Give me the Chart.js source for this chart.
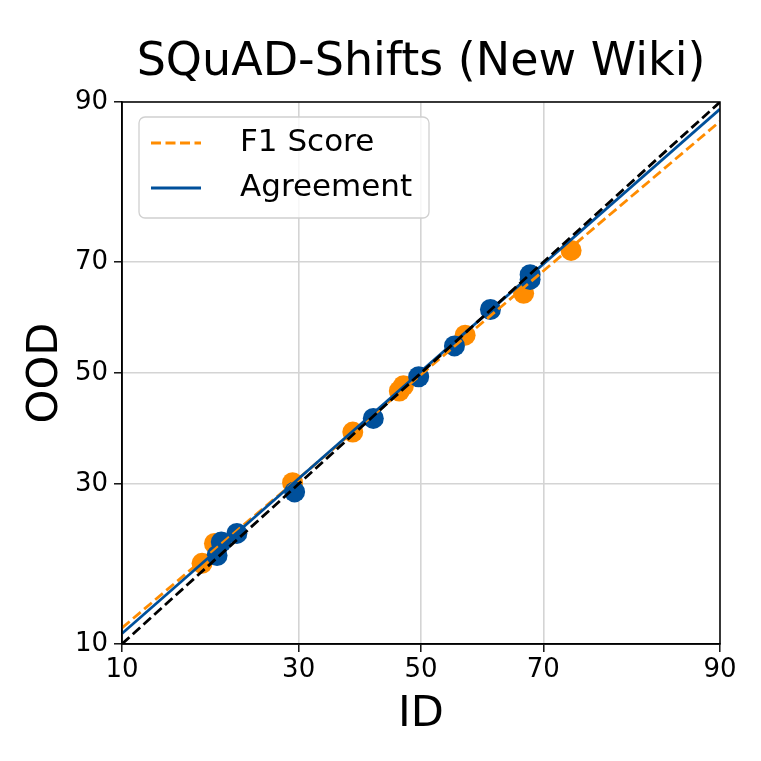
<!DOCTYPE html>
<html>
<head>
<meta charset="utf-8">
<script src="https://cdn.jsdelivr.net/npm/chart.js@4"></script>
<style>
  html, body { margin: 0; padding: 0; background: #fff; }
  canvas { display: block; }
</style>
</head>
<body>
<canvas id="c" width="761" height="761"></canvas>
<script>
// ---- data (percent values) ----
const tickLabels = [10, 30, 50, 70, 90];

const f1ID  = [17.4, 18.8, 29.1, 38.5, 46.3, 47.0, 57.5, 67.0, 74.0];
const f1OOD = [18.4, 21.0, 30.2, 39.0, 46.6, 47.6, 57.1, 64.7, 71.9];

const agrID  = [19.1, 19.6, 21.5, 29.4, 41.9, 49.6, 55.7, 61.7, 68.0, 68.0];
const agrOOD = [19.4, 21.2, 22.4, 28.7, 41.5, 49.3, 55.1, 61.8, 67.9, 67.1];

const f1FitID  = [10, 90];
const f1FitOOD = [11.4, 88.3];
const agrFitID  = [10, 90];
const agrFitOOD = [10.9, 89.4];
const diagID  = [10, 90];
const diagOOD = [10, 90];

// ---- probit transform ----
function probit(p) {
  const a = [-3.969683028665376e+01, 2.209460984245205e+02, -2.759285104469687e+02, 1.383577518672690e+02, -3.066479806614716e+01, 2.506628277459239e+00];
  const b = [-5.447609879822406e+01, 1.615858368580409e+02, -1.556989798598866e+02, 6.680131188771972e+01, -1.328068155288572e+01];
  const c = [-7.784894002430293e-03, -3.223964580411365e-01, -2.400758277161838e+00, -2.549732539343734e+00, 4.374664141464968e+00, 2.938163982698783e+00];
  const d = [7.784695709041462e-03, 3.224671290700398e-01, 2.445134137142996e+00, 3.754408661907416e+00];
  const pl = 0.02425, ph = 1 - pl;
  let q, r;
  if (p < pl) {
    q = Math.sqrt(-2 * Math.log(p));
    return (((((c[0]*q+c[1])*q+c[2])*q+c[3])*q+c[4])*q+c[5]) / ((((d[0]*q+d[1])*q+d[2])*q+d[3])*q+1);
  } else if (p <= ph) {
    q = p - 0.5; r = q*q;
    return (((((a[0]*r+a[1])*r+a[2])*r+a[3])*r+a[4])*r+a[5])*q / (((((b[0]*r+b[1])*r+b[2])*r+b[3])*r+b[4])*r+1);
  } else {
    q = Math.sqrt(-2 * Math.log(1 - p));
    return -(((((c[0]*q+c[1])*q+c[2])*q+c[3])*q+c[4])*q+c[5]) / ((((d[0]*q+d[1])*q+d[2])*q+d[3])*q+1);
  }
}
const tr = v => probit(v / 100);
const pts = (xs, ys) => xs.map((x, i) => ({x: tr(x), y: tr(ys[i])}));

const ORANGE = '#ff8c00';
const BLUE = '#00509b';
const FONT = 'DejaVu Sans';
const DASH = [10, 4.5];

const tickVals = tickLabels.map(tr);
function labelFor(v) {
  let best = 0, bd = Infinity;
  tickVals.forEach((t, i) => { const d = Math.abs(t - v); if (d < bd) { bd = d; best = i; } });
  return String(tickLabels[best]);
}

const axisCommon = (title, isX) => ({
  type: 'linear',
  min: tr(tickLabels[0]),
  max: tr(tickLabels[tickLabels.length - 1]),
  afterBuildTicks: s => { s.ticks = tickVals.map(v => ({value: v})); },
  afterFit: s => { if (isX) s.height = 117; else s.width = 122; },
  ticks: {
    autoSkip: false, maxRotation: 0,
    color: '#000',
    font: {family: FONT, size: 26},
    padding: isX ? 3 : 6,
    callback: v => labelFor(v)
  },
  grid: {
    color: '#d4d4d4', lineWidth: 1.6,
    tickColor: '#000', tickLength: 8, tickWidth: 1.4, drawTicks: true
  },
  border: {display: true, color: '#000', width: 1.5},
  title: {
    display: true, text: title, color: '#000',
    font: {family: FONT, size: 43},
    padding: isX ? {top: 0, bottom: 20} : {top: 20, bottom: 0}
  }
});

const boxPlugin = {
  id: 'box',
  afterDatasetsDraw(chart) {
    const {ctx, chartArea: a} = chart;
    ctx.save();
    ctx.strokeStyle = '#000'; ctx.lineWidth = 1.5;
    ctx.strokeRect(a.left, a.top, a.right - a.left, a.bottom - a.top);
    ctx.restore();
  },
  afterDraw(chart) {
    const {ctx} = chart;
    const x0 = 139, y0 = 117, w = 290, h = 101, r = 6;
    ctx.save();
    ctx.beginPath();
    ctx.roundRect(x0, y0, w, h, r);
    ctx.fillStyle = 'rgba(255,255,255,0.8)';
    ctx.fill();
    ctx.strokeStyle = '#d0d0d0'; ctx.lineWidth = 1.3;
    ctx.stroke();
    const items = [
      {label: 'F1 Score', color: ORANGE, dash: DASH, y: 143},
      {label: 'Agreement', color: BLUE, dash: [], y: 188}
    ];
    items.forEach(it => {
      ctx.beginPath();
      ctx.setLineDash(it.dash);
      ctx.strokeStyle = it.color; ctx.lineWidth = 3;
      ctx.moveTo(151, it.y); ctx.lineTo(201, it.y);
      ctx.stroke();
      ctx.setLineDash([]);
      ctx.fillStyle = '#000';
      ctx.font = '31px "' + FONT + '"';
      ctx.textBaseline = 'middle';
      ctx.textAlign = 'left';
      ctx.fillText(it.label, 240, it.y);
    });
    ctx.restore();
  }
};

new Chart(document.getElementById('c'), {
  type: 'scatter',
  data: {
    datasets: [
      {label: 'y=x', data: pts(diagID, diagOOD), showLine: true, borderColor: '#000', borderWidth: 2.8, borderDash: DASH, pointRadius: 0, fill: false},
      {label: 'Agreement fit', data: pts(agrFitID, agrFitOOD), showLine: true, borderColor: BLUE, borderWidth: 2.8, pointRadius: 0, fill: false},
      {label: 'F1 fit', data: pts(f1FitID, f1FitOOD), showLine: true, borderColor: ORANGE, borderWidth: 2.8, borderDash: DASH, pointRadius: 0, fill: false},
      {label: 'Agreement', data: pts(agrID, agrOOD), backgroundColor: BLUE, borderColor: BLUE, pointRadius: 10.5, borderWidth: 0},
      {label: 'F1 Score', data: pts(f1ID, f1OOD), backgroundColor: ORANGE, borderColor: ORANGE, pointRadius: 10.5, borderWidth: 0}
    ]
  },
  options: {
    responsive: false,
    animation: false,
    devicePixelRatio: 1,
    layout: {padding: {left: 0, right: 41, top: 0, bottom: 0}},
    scales: {
      x: Object.assign(axisCommon('ID', true), {position: 'bottom'}),
      y: Object.assign(axisCommon('OOD', false), {position: 'left'})
    },
    plugins: {
      legend: {display: false},
      tooltip: {enabled: false},
      title: {
        display: true, fullSize: false,
        text: 'SQuAD-Shifts (New Wiki)', color: '#000',
        font: {family: FONT, size: 46, weight: 'normal'},
        padding: {top: 35, bottom: 11.8}
      }
    }
  },
  plugins: [boxPlugin]
});
</script>
</body>
</html>
